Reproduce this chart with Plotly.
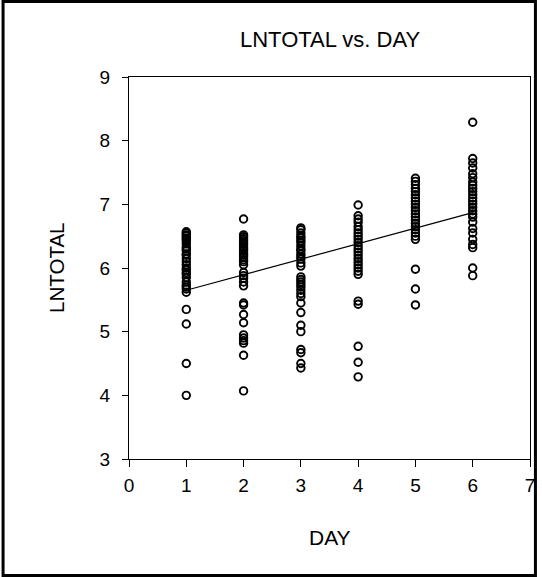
import plotly.graph_objects as go

# ---- data ----
day1 = [6.57, 6.55, 6.52, 6.50, 6.47, 6.45, 6.42, 6.38, 6.33, 6.30, 6.27, 6.22, 6.20, 6.15,
        6.10, 6.05, 6.00, 5.97, 5.93, 5.90, 5.85, 5.78, 5.73, 5.70, 5.67, 5.62, 5.35, 5.12,
        4.50, 4.00]
day2 = [6.77, 6.52, 6.49, 6.46, 6.43, 6.40, 6.37, 6.33, 6.30, 6.27, 6.23, 6.20, 6.17, 6.13,
        6.10, 6.05, 5.93, 5.88, 5.84, 5.78, 5.72, 5.45, 5.42, 5.27, 5.14, 4.95, 4.90, 4.86,
        4.82, 4.63, 4.07]
day3 = [6.63, 6.60, 6.55, 6.50, 6.47, 6.43, 6.40, 6.35, 6.30, 6.27, 6.22, 6.18, 6.14, 6.08,
        6.03, 5.86, 5.82, 5.78, 5.74, 5.70, 5.65, 5.60, 5.55, 5.45, 5.30, 5.10, 5.00, 4.72,
        4.67, 4.50, 4.43]
day4 = [6.99, 6.82, 6.77, 6.72, 6.65, 6.60, 6.55, 6.50, 6.45, 6.40, 6.35, 6.30, 6.25, 6.20,
        6.15, 6.10, 6.05, 6.00, 5.95, 5.90, 5.48, 5.43, 4.77, 4.52, 4.29]
day5 = [7.41, 7.36, 7.31, 7.25, 7.20, 7.15, 7.10, 7.05, 7.00, 6.95, 6.90, 6.85, 6.80, 6.75,
        6.70, 6.65, 6.60, 6.55, 6.50, 6.45, 5.98, 5.67, 5.42]
day6 = [8.29, 7.72, 7.65, 7.57, 7.48, 7.42, 7.35, 7.30, 7.25, 7.20, 7.15, 7.10, 7.05, 7.00,
        6.95, 6.90, 6.85, 6.80, 6.72, 6.62, 6.55, 6.45, 6.37, 6.32, 6.00, 5.88]

days = [1, 2, 3, 4, 5, 6]
lntotal_by_day = [day1, day2, day3, day4, day5, day6]

# fitted regression line
fit_x = [1, 6]
fit_y = [5.65, 6.87]

x_ticks = [0, 1, 2, 3, 4, 5, 6, 7]
y_ticks = [3, 4, 5, 6, 7, 8, 9]

xs, ys = [], []
for d, vals in zip(days, lntotal_by_day):
    xs += [d] * len(vals)
    ys += vals

FONT = "Liberation Sans, Arial, sans-serif"

fig = go.Figure()
fig.add_trace(go.Scatter(
    x=xs, y=ys, mode="markers",
    marker=dict(symbol="circle-open", size=7.5, color="black", line=dict(width=1.9, color="black")),
    showlegend=False, hoverinfo="x+y"))
fig.add_trace(go.Scatter(
    x=fit_x, y=fit_y, mode="lines", line=dict(color="black", width=1.2),
    showlegend=False))

W, H = 542, 577
L, R, T, B = 129, 7, 77, 118
pw, ph = W - L - R, H - T - B

fig.update_layout(
    width=W, height=H, autosize=False,
    margin=dict(l=L, r=R, t=T, b=B, pad=0),
    paper_bgcolor="white", plot_bgcolor="white",
    font=dict(family=FONT, size=19, color="black"),
    xaxis=dict(range=[0, 7], tickvals=x_ticks, ticks="outside", ticklen=7, tickwidth=1,
               tickcolor="black", showline=True, linecolor="black", linewidth=1, mirror=True,
               showgrid=False, zeroline=False, tickfont=dict(size=19),
               ticklabelstandoff=2),
    yaxis=dict(range=[3, 9], tickvals=y_ticks, ticks="outside", ticklen=6, tickwidth=1,
               tickcolor="black", showline=True, linecolor="black", linewidth=1, mirror=True,
               showgrid=False, zeroline=False, tickfont=dict(size=19),
               ticklabelstandoff=8),
    annotations=[
        dict(text="LNTOTAL vs. DAY", xref="paper", yref="paper", x=0.5,
             y=(H - B - 40) / ph, xanchor="center", yanchor="middle",
             showarrow=False, font=dict(size=22)),
        dict(text="LNTOTAL", xref="paper", yref="paper", x=(55 - L) / pw, y=0.5,
             xanchor="center", yanchor="middle",
             textangle=-90, showarrow=False, font=dict(size=20.5)),
        dict(text="DAY", xref="paper", yref="paper", x=0.5, y=(H - B - 537) / ph,
             xanchor="center", yanchor="middle",
             showarrow=False, font=dict(size=21)),
    ],
    shapes=[dict(type="rect", xref="paper", yref="paper",
                 x0=(1.5 - L) / pw, x1=(W - 1.5 - L) / pw,
                 y0=(H - B - (H - 1.5)) / ph, y1=(H - B - 1.5) / ph,
                 line=dict(color="black", width=3), fillcolor="rgba(0,0,0,0)")],
)

fig.write_html(
    "out.html",
    config={"displayModeBar": False},
    post_script=("var s=document.createElement('style');"
                 "s.textContent='html,body{margin:0;padding:0;overflow:hidden;}';"
                 "document.head.appendChild(s);"),
)
